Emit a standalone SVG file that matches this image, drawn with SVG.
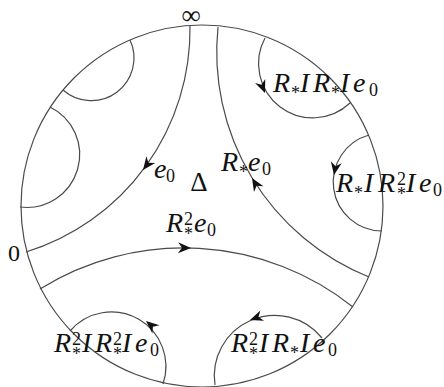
<svg xmlns="http://www.w3.org/2000/svg" xmlns:xlink="http://www.w3.org/1999/xlink" width="444" height="387" viewBox="0 0 444 387">
<style>
.ln{fill:none;stroke:#4a4a4a;stroke-width:1.2}
.ah{fill:#111;stroke:none}
text{fill:#111}
.i{font-style:italic;font-size:28px}
.s{font-size:18px;font-style:normal}
.u{font-size:24px}
</style>
<defs>
<path id="ah" d="M0,0 L-13,-5.5 L-9,0 L-13,5.5 Z"/>
</defs>
<g id="boundary">
<circle class="ln" cx="202" cy="206" r="181"/>
</g>
<g id="connectors">
<path id="e0" class="ln" d="M190,26 A233,233 0 0 1 26,252"/>
<path id="Re0" class="ln" d="M218,27 A242.6,242.6 0 0 0 369,277"/>
<path id="R2e0" class="ln" d="M40,289 A272.2,272.2 0 0 1 353,307"/>
<path id="ul" class="ln" d="M130,40 A42.7,42.7 0 0 1 63,90"/>
<path id="l" class="ln" d="M50,107 A52.9,52.9 0 0 1 20,207"/>
<path id="ur" class="ln" d="M265,38 A54.2,54.2 0 0 0 350,103"/>
<path id="r" class="ln" d="M369,135 A48.9,48.9 0 0 0 382,231"/>
<path id="ll" class="ln" d="M70,331 A54.5,54.5 0 0 1 163,384"/>
<path id="lr" class="ln" d="M215,385 A60.5,60.5 0 0 1 322,338"/>
<use class="ah" xlink:href="#ah" transform="translate(143,170) rotate(127)"/>
<use class="ah" xlink:href="#ah" transform="translate(252,178) rotate(-121)"/>
<use class="ah" xlink:href="#ah" transform="translate(191,248) rotate(1)"/>
<use class="ah" xlink:href="#ah" transform="translate(265,93) rotate(68)"/>
<use class="ah" xlink:href="#ah" transform="translate(334,175) rotate(100)"/>
<use class="ah" xlink:href="#ah" transform="translate(146,321) rotate(-140)"/>
<use class="ah" xlink:href="#ah" transform="translate(250,320) rotate(160)"/>
</g>
<g id="labels" font-family="Liberation Serif, Times New Roman, serif">
<g id="label-inf"><text x="191" y="24" font-size="27" text-anchor="middle">∞</text></g>
<g id="label-zero"><text class="u" x="14" y="261" text-anchor="middle">0</text></g>
<g id="label-delta"><text x="199" y="191" font-size="27" text-anchor="middle">Δ</text></g>
<g id="label-e0"><text><tspan class="i" x="154" y="178">e</tspan><tspan class="s" x="166" y="182">0</tspan></text></g>
<g id="label-Re0"><text><tspan class="i" x="221" y="171">R</tspan><tspan class="s" x="239" y="178">*</tspan><tspan class="i" x="248" y="171">e</tspan><tspan class="s" x="262" y="175">0</tspan></text></g>
<g id="label-R2e0"><text><tspan class="i" x="166" y="232">R</tspan><tspan class="s" x="184" y="225">2</tspan><tspan class="s" x="184" y="240">*</tspan><tspan class="i" x="194" y="232">e</tspan><tspan class="s" x="207" y="236">0</tspan></text></g>
<g id="label-RIRIe0"><text><tspan class="i" x="273" y="92">R</tspan><tspan class="s" x="291" y="99">*</tspan><tspan class="i" x="300" y="92">I</tspan><tspan class="i" x="313" y="92">R</tspan><tspan class="s" x="331" y="99">*</tspan><tspan class="i" x="340" y="92">I</tspan><tspan class="i" x="353" y="92">e</tspan><tspan class="s" x="369" y="96">0</tspan></text></g>
<g id="label-RIR2Ie0"><text><tspan class="i" x="336" y="192">R</tspan><tspan class="s" x="354" y="199">*</tspan><tspan class="i" x="364" y="192">I</tspan><tspan class="i" x="378" y="192">R</tspan><tspan class="s" x="397" y="185">2</tspan><tspan class="s" x="397" y="200">*</tspan><tspan class="i" x="406" y="192">I</tspan><tspan class="i" x="419" y="192">e</tspan><tspan class="s" x="433" y="196">0</tspan></text></g>
<g id="label-R2IR2Ie0"><text><tspan class="i" x="54" y="352">R</tspan><tspan class="s" x="72" y="345">2</tspan><tspan class="s" x="72" y="360">*</tspan><tspan class="i" x="82" y="352">I</tspan><tspan class="i" x="95" y="352">R</tspan><tspan class="s" x="113" y="345">2</tspan><tspan class="s" x="113" y="360">*</tspan><tspan class="i" x="122" y="352">I</tspan><tspan class="i" x="135" y="352">e</tspan><tspan class="s" x="150" y="356">0</tspan></text></g>
<g id="label-R2IRIe0"><text><tspan class="i" x="231" y="352">R</tspan><tspan class="s" x="249" y="345">2</tspan><tspan class="s" x="249" y="360">*</tspan><tspan class="i" x="259" y="352">I</tspan><tspan class="i" x="272" y="352">R</tspan><tspan class="s" x="290" y="359">*</tspan><tspan class="i" x="300" y="352">I</tspan><tspan class="i" x="313" y="352">e</tspan><tspan class="s" x="328" y="356">0</tspan></text></g>
</g>
</svg>
